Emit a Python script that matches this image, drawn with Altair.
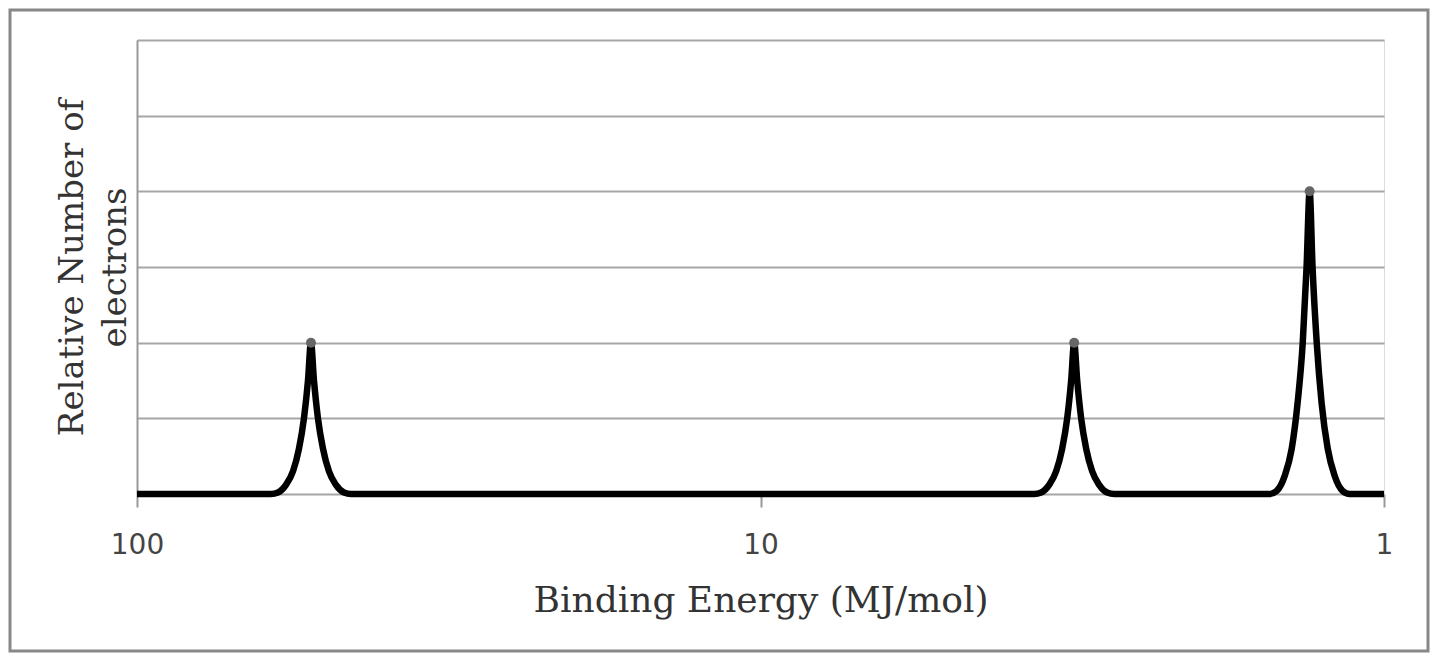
import altair as alt
import pandas as pd

# Binding energies (MJ/mol) and relative electron counts
energy = [100,
          60.98, 59.42, 57.69, 56.21, 54.98, 53.98, 53.18, 52.6, 52.02, 51.26, 50.32, 49.22, 47.96, 46.56, 45.37,
          3.64, 3.547, 3.444, 3.356, 3.282, 3.222, 3.175, 3.14, 3.105, 3.06, 3.004, 2.938, 2.863, 2.78, 2.708,
          1.526, 1.487, 1.443, 1.406, 1.376, 1.35, 1.331, 1.316, 1.302, 1.282, 1.259, 1.231, 1.2, 1.165, 1.135,
          1]
count = [0,
         0, 0.02, 0.12, 0.3, 0.6, 1.0, 1.5, 2, 1.5, 1.0, 0.6, 0.3, 0.12, 0.02, 0,
         0, 0.02, 0.12, 0.3, 0.6, 1.0, 1.5, 2, 1.5, 1.0, 0.6, 0.3, 0.12, 0.02, 0,
         0, 0.04, 0.24, 0.6, 1.2, 2.0, 3.0, 4, 3.0, 2.0, 1.2, 0.6, 0.24, 0.04, 0,
         0]
peak_energy = [52.6, 3.14, 1.316]
peak_count = [2, 2, 4]
x_ticks = [100, 10, 1]
y_ticks = [0, 1, 2, 3, 4, 5, 6]

df = pd.DataFrame({"energy": energy, "count": count, "idx": list(range(len(energy)))})
peaks = pd.DataFrame({"energy": peak_energy, "count": peak_count})

W, H = 1247, 454

xscale = alt.Scale(type="log", domain=[100, 1])
yscale = alt.Scale(domain=[0, 6])

line = alt.Chart(df).mark_line(color="black", strokeWidth=6.5, interpolate="monotone").encode(
    x=alt.X("energy:Q", scale=xscale,
            axis=alt.Axis(values=x_ticks, format="d", title="Binding Energy (MJ/mol)",
                          grid=False, domain=False, tickColor="#999", tickWidth=2, tickSize=13,
                          labelFont="DejaVu Sans", labelFontSize=28, labelColor="#444",
                          labelPadding=24, labelFlush=False, labelBound=False, labelOverlap=False,
                          titleFont="DejaVu Serif", titleFontSize=36,
                          titleFontWeight="normal", titleColor="#333", titlePadding=24)),
    y=alt.Y("count:Q", scale=yscale,
            axis=alt.Axis(values=y_ticks, labels=False, ticks=False,
                          title=["Relative Number of", "electrons"],
                          domainColor="#999", domainWidth=2, gridColor="#a6a6a6", gridWidth=2,
                          titleFont="DejaVu Serif", titleFontSize=34, titleFontWeight="normal",
                          titleColor="#333", titlePadding=5, titleLineHeight=43)),
    order=alt.Order("idx:Q"),
)

dots = alt.Chart(peaks).mark_point(filled=True, color="#666", size=100, opacity=1).encode(
    x=alt.X("energy:Q", scale=xscale),
    y=alt.Y("count:Q", scale=yscale),
)

frame = alt.Chart(pd.DataFrame({"a": [0]})).mark_rect(
    fill=None, stroke="#888", strokeWidth=3
).encode(x=alt.value(-127), x2=alt.value(W + 44), y=alt.value(-30), y2=alt.value(H + 157))

chart = alt.layer(line, dots, frame).properties(
    width=W, height=H,
    autosize=alt.AutoSizeParams(type="none"),
    padding={"left": 129, "top": 32, "right": 46, "bottom": 159},
).configure_view(stroke=None).configure(background="white")

chart.save("out.html", embed_options={"renderer": "svg", "actions": False})
